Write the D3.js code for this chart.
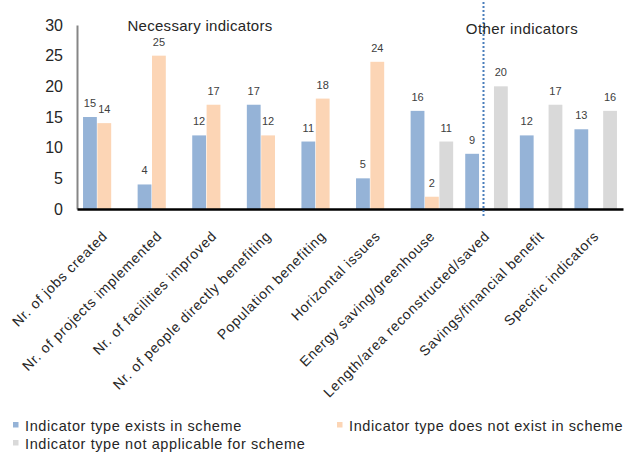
<!DOCTYPE html>
<html>
<head>
<meta charset="utf-8">
<script src="https://cdn.jsdelivr.net/npm/d3@7"></script>
<style>
  html, body { margin: 0; padding: 0; background: #fff; }
  svg { display: block; font-family: "Liberation Sans", Arial, sans-serif; }
</style>
</head>
<body>
<svg id="chart" width="630" height="452"></svg>
<script>
// Indicator categories along the x axis
const categories = [
  "Nr. of jobs created",
  "Nr. of projects implemented",
  "Nr. of facilities improved",
  "Nr. of people directly benefiting",
  "Population benefiting",
  "Horizontal issues",
  "Energy saving/greenhouse",
  "Length/area reconstructed/saved",
  "Savings/financial benefit",
  "Specific indicators"
];
// Series values (null = no bar)
const exists        = [15, 4, 12, 17, 11, 5, 16, 9, 12, 13];
const notExists     = [14, 25, 17, 12, 18, 24, 2, null, null, null];
const notApplicable = [null, null, null, null, null, null, 11, 20, 17, 16];

const seriesNames = [
  "Indicator type exists in scheme",
  "Indicator type does not exist in scheme",
  "Indicator type not applicable for scheme"
];
const seriesColors = ["#95b3d7", "#fcd5b5", "#d9d9d9"];
const yTicks = [0, 5, 10, 15, 20, 25, 30];
const groupLabels = ["Necessary indicators", "Other indicators"];

const svg = d3.select("#chart");
const plotLeft = 77, plotRight = 623, plotTop = 25, plotBottom = 209;
const textColor = "#262626";

const x = d3.scaleBand().domain(categories).range([plotLeft, plotRight]).paddingInner(0.2).paddingOuter(0.1);
const xs = d3.scaleBand().domain([0, 1, 2]).range([0, x.bandwidth()]).padding(0.04);
const y = d3.scaleLinear().domain([0, 30]).range([plotBottom, plotTop]);

const series = [exists, notExists, notApplicable];

// Bars with value labels
series.forEach((vals, si) => {
  const data = categories.map((c, i) => ({ c, v: vals[i] })).filter(d => d.v != null);
  const g = svg.append("g");
  g.selectAll("rect").data(data).join("rect")
    .attr("x", d => x(d.c) + xs(si))
    .attr("y", d => y(d.v))
    .attr("width", xs.bandwidth())
    .attr("height", d => y(0) - y(d.v))
    .attr("fill", seriesColors[si]);
  g.selectAll("text").data(data).join("text")
    .attr("x", d => x(d.c) + xs(si) + xs.bandwidth() / 2)
    .attr("y", d => y(d.v) - 10)
    .attr("text-anchor", "middle")
    .attr("font-size", 11)
    .attr("fill", "#404040")
    .text(d => d.v);
});

// Y axis
const yAxis = d3.axisLeft(y).tickValues(yTicks).tickSize(0).tickPadding(14);
const yg = svg.append("g").attr("transform", `translate(${plotLeft},0)`).call(yAxis);
yg.select(".domain").attr("stroke", "#868686").attr("stroke-width", 2);
yg.selectAll("text").attr("font-size", 16).attr("fill", textColor)
  .attr("font-family", "'Liberation Sans', Arial, sans-serif");

// X axis baseline and rotated labels
const xAxis = d3.axisBottom(x).tickSize(0).tickFormat("");
const xg = svg.append("g").attr("transform", `translate(0,${plotBottom})`).call(xAxis);
xg.select(".domain").attr("stroke", "#000").attr("stroke-width", 2.5);

svg.append("g").selectAll("text").data(categories).join("text")
  .attr("transform", d => `translate(${x(d) + x.bandwidth() / 2 + 4},${plotBottom + 28}) rotate(-45)`)
  .attr("text-anchor", "end")
  .attr("font-size", 14)
  .attr("letter-spacing", 0.75)
  .attr("fill", textColor)
  .text(d => d);

// Divider between the two indicator groups
const divX = x(categories[7]) + x.bandwidth() / 2 - 3;
svg.append("line")
  .attr("x1", divX).attr("x2", divX)
  .attr("y1", 2).attr("y2", 216)
  .attr("stroke", "#4a7ebb").attr("stroke-width", 2)
  .attr("stroke-dasharray", "2,2");

// Group titles
svg.append("text").attr("x", 200).attr("y", 31).attr("text-anchor", "middle")
  .attr("font-size", 15).attr("letter-spacing", 0.3).attr("fill", textColor).text(groupLabels[0]);
svg.append("text").attr("x", 522).attr("y", 34).attr("text-anchor", "middle")
  .attr("font-size", 15).attr("letter-spacing", 0.4).attr("fill", textColor).text(groupLabels[1]);

// Legend
const legendPos = [[13, 431], [337, 431], [13, 449]];
const lg = svg.append("g").selectAll("g").data(seriesNames).join("g")
  .attr("transform", (d, i) => `translate(${legendPos[i][0]},${legendPos[i][1]})`);
lg.append("rect").attr("x", 0).attr("y", -9).attr("width", 5.5).attr("height", 5.5)
  .attr("fill", (d, i) => seriesColors[i]);
lg.append("text").attr("x", 12).attr("y", 0).attr("font-size", 14.5)
  .attr("letter-spacing", 0.6).attr("fill", textColor).text(d => d);
</script>
</body>
</html>
